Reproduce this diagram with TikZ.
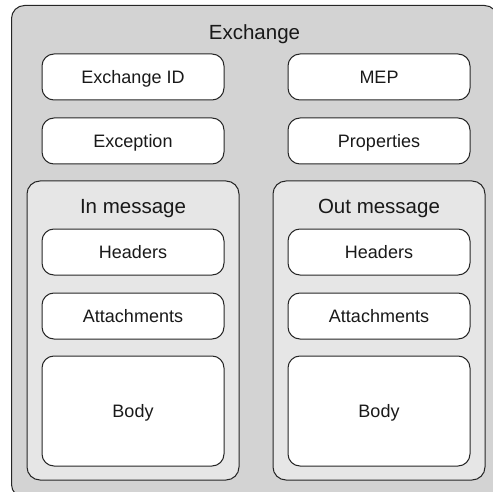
\documentclass[tikz,border=0pt]{standalone}
\usepackage{fontspec}
\setmainfont{Liberation Sans}
\usetikzlibrary{positioning}
\definecolor{exgray}{RGB}{211,211,211}
\definecolor{msggray}{RGB}{230,230,230}

\begin{document}
\begin{tikzpicture}[x = 1pt, y = 1pt, % one unit per pixel
                line width = 1pt, % line style
                node distance = 17pt and 63pt % distance between boxes
            ]

            \tikzstyle{every node}=[inner sep = 0pt, text = black!90]
            \tikzstyle{outerbox}=[draw = black!85, fill = exgray, rounded
            corners = 13pt, minimum width = 486pt, minimum height = 492pt]
            \tikzstyle{msgbox}=[draw = black!85, fill = msggray, rounded
            corners = 13pt, minimum width = 212pt, minimum height = 299pt]
            \tikzstyle{item}=[draw = black!85, fill = white, rounded corners
            = 12pt, minimum width = 182pt, minimum height = 46pt, text height
            = 12.9pt, text depth = 0pt, font = \fontsize{18}{20}\selectfont]
            \tikzstyle{title}=[text height = 14.8pt, text depth = 0pt, font =
            \fontsize{20.5}{23}\selectfont]

            \useasboundingbox (0,0) rectangle (493,-492);

            \node (exchange) [outerbox, anchor = north west] at (11,-5) {};
            \node (exlabel) [title, below = 19pt of exchange.north]
            {Exchange};

            \node (exid) [item] at (133,-77) {Exchange ID}; \node (mep)
            [item, right = of exid] {MEP}; \node (exception) [item, below = of
            exid] {Exception}; \node (props) [item, below = of mep]
            {Properties};

            % in message
            \node (inmsg) [msgbox, anchor = north, below = 16pt of exception]
            {}; \node (inlabel) [title, below = 18pt of inmsg.north] {In
            message}; \node (inhead) [item, below = 48pt of inmsg.north]
            {Headers}; \node (inattach) [item, below = of inhead]
            {Attachments}; \node (inbody) [item, minimum height = 110pt, below
            = 16pt of inattach] {Body};

            % out message
            \node (outmsg) [msgbox, anchor = north, below = 16pt of props]
            {}; \node (outlabel) [title, below = 18pt of outmsg.north] {Out
            message}; \node (outhead) [item, below = 48pt of outmsg.north]
            {Headers}; \node (outattach) [item, below = of outhead]
            {Attachments}; \node (outbody) [item, minimum height = 110pt,
            below = 16pt of outattach] {Body};
\end{tikzpicture}
\end{document}
